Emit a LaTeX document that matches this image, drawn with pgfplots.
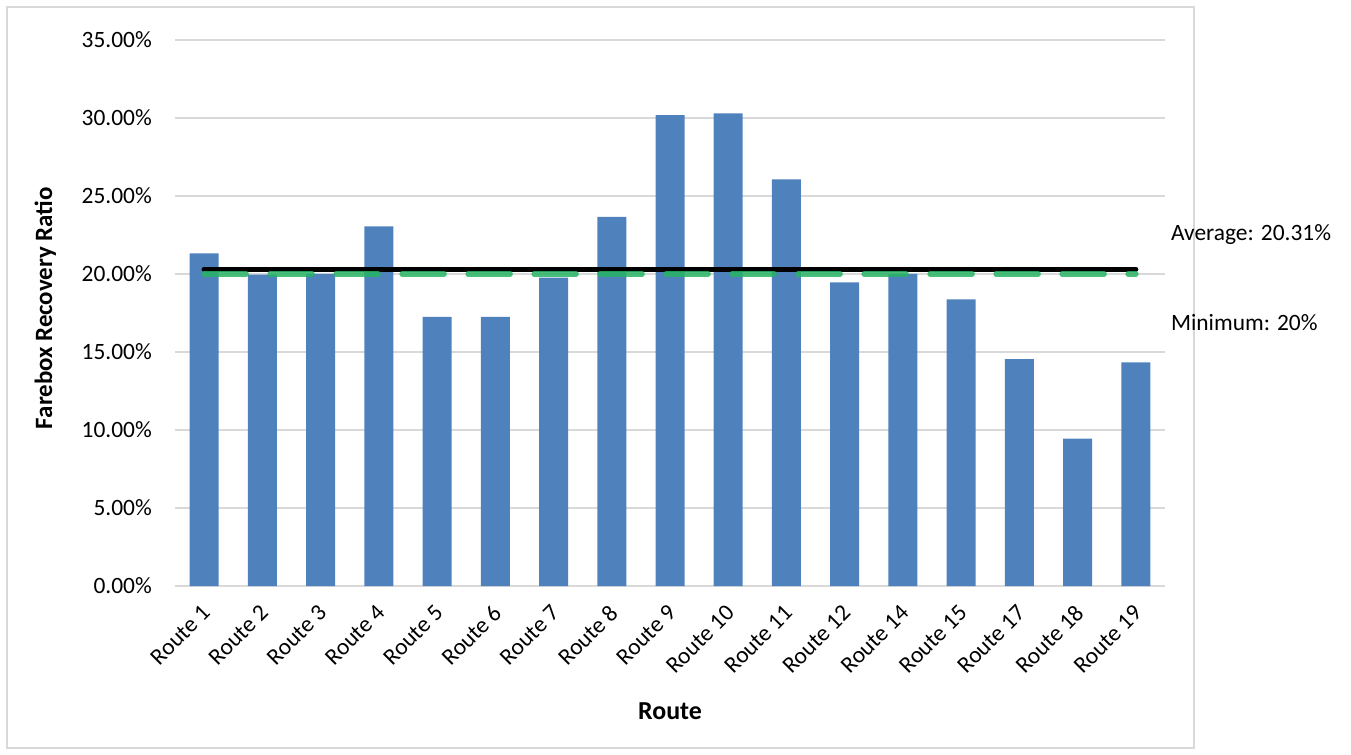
\documentclass[border=0pt]{standalone}
\usepackage{pgfplots}
\pgfplotsset{compat=1.18}
\usepackage{fontspec}
\setmainfont{Carlito}
\definecolor{barblue}{HTML}{4F81BD}
\definecolor{mingreen}{RGB}{40,180,100}
\definecolor{gridgray}{HTML}{D9D9D9}
\begin{document}
\begin{tikzpicture}[x=1bp,y=1bp]
\path[use as bounding box] (-175,-168) rectangle (1176,586);
\draw[gridgray, line width=1.2bp] (-168,579) rectangle (1019,-162);
\begin{axis}[
  at={(0,0)}, anchor=south west,
  scale only axis, width=990bp, height=546bp,
  xmin=-0.5, xmax=16.5, ymin=0, ymax=35,
  axis lines*=left,
  y axis line style={draw=none},
  x axis line style={gridgray, line width=1.5bp},
  tick style={draw=none},
  major tick length=0pt,
  ymajorgrids, grid style={gridgray, line width=1.2bp},
  ytick={0,5,10,15,20,25,30,35},
  /pgf/number format/assume math mode=true,
  yticklabel={\pgfmathprintnumber[fixed,fixed zerofill,precision=2]{\tick}\%},
  yticklabel style={font=\fontsize{23.5}{28}\selectfont, inner sep=0pt, xshift=-23bp},
  xtick={0,...,16},
  xticklabels={Route 1,Route 2,Route 3,Route 4,Route 5,Route 6,Route 7,Route 8,Route 9,Route 10,Route 11,Route 12,Route 14,Route 15,Route 17,Route 18,Route 19},
  xticklabel style={font=\fontsize{23.5}{28}\selectfont, xshift=2bp, yshift=-23bp, rotate=45, anchor=east, inner sep=0pt},
  clip=false,
]
\addplot[ybar, bar width=29bp, fill=barblue, draw=none] coordinates {
(0,21.32) (1,19.96) (2,20.00) (3,23.05) (4,17.25) (5,17.25) (6,19.77) (7,23.66) (8,30.19) (9,30.29) (10,26.07) (11,19.47) (12,20.00) (13,18.38) (14,14.55) (15,9.45) (16,14.34)};
\addplot[black, line width=5bp, line cap=round, sharp plot, mark=none] coordinates {(0,20.31) (16,20.31)};
\addplot[mingreen, opacity=0.85, line width=5.5bp, line cap=round, dash pattern=on 42bp off 24bp, sharp plot, mark=none] coordinates {(0,20) (16,20)};
\node[anchor=west, inner sep=0pt, font=\fontsize{23.5}{28}\selectfont] at (axis cs:16.6,22.5) {Average: 20.31\%};
\node[anchor=west, inner sep=0pt, font=\fontsize{23.5}{28}\selectfont] at (axis cs:16.6,16.86) {Minimum: 20\%};
\node[rotate=90, font=\fontsize{25}{30}\selectfont\bfseries] at (rel axis cs:-0.131,0.509) {Farebox Recovery Ratio};
\node[font=\fontsize{26}{30}\selectfont\bfseries] at (rel axis cs:0.5,-0.229) {Route};
\end{axis}
\end{tikzpicture}
\end{document}
